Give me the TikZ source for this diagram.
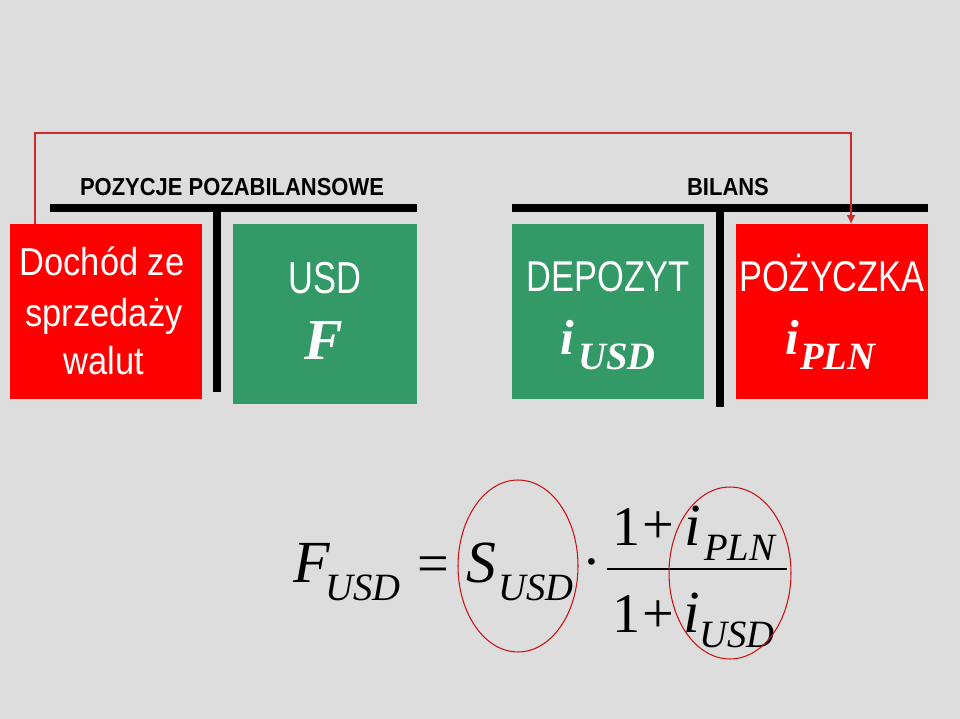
\documentclass[tikz,border=0pt]{standalone}
\usepackage{fontspec}
\setmainfont{Liberation Sans}
\newfontfamily\timesf{Liberation Serif}
\usetikzlibrary{arrows.meta}
\definecolor{bg}{HTML}{DDDDDD}
\definecolor{boxred}{HTML}{FF0000}
\definecolor{boxgreen}{HTML}{339966}
\definecolor{linkred}{HTML}{D02A2A}
\definecolor{ringred}{HTML}{CC1111}
\newcommand{\tall}[2]{\scalebox{1}[#1]{#2}}
\tikzset{
  box/.style={minimum width=3.84cm, minimum height=3.5cm, inner sep=0, outer sep=0},
  head/.style={anchor=base, font=\bfseries\fontsize{12.5}{14}\selectfont},
  boxtext/.style={anchor=base, text=white, font=\fontsize{19.6}{24}\selectfont},
  sym/.style={anchor=base west, text=white, inner sep=0, font=\timesf\bfseries\itshape\fontsize{28}{30}\selectfont},
  subsym/.style={sym, font=\timesf\bfseries\itshape\fontsize{22}{24}\selectfont},
  tbar/.style={line width=4pt},
  link/.style={linkred, line width=0.8pt, -{Latex[length=5pt,width=5pt]}},
  ring/.style={ringred, line width=0.6pt},
  big/.style={anchor=base west, inner sep=0, font=\timesf\itshape\fontsize{34}{36}\selectfont},
  small/.style={anchor=base west, inner sep=0, font=\timesf\itshape\fontsize{22}{24}\selectfont},
  op/.style={inner sep=0, font=\timesf\fontsize{32}{34}\selectfont}
}
\begin{document}
\begin{tikzpicture}[x=0.02cm, y=-0.02cm]
  \fill[bg] (0,0) rectangle (960,719);

  \node[head] (offhead) at (232,196) {\tall{1.12}{POZYCJE POZABILANSOWE}};
  \node[head] (bshead) at (728,196) {\tall{1.12}{BILANS}};
  \draw[tbar] (50,208) -- (417,208) (217,208) -- (217,392);
  \draw[tbar] (512,208) -- (928,208) (720,208) -- (720,407);

  \node[box, fill=boxred] (income) at (106,311.5) {};
  \node[box, fill=boxgreen, minimum width=3.68cm, minimum height=3.6cm] (forward) at (325,314) {};
  \node[box, fill=boxgreen] (deposit) at (608,311.5) {};
  \node[box, fill=boxred] (loan) at (832,311.5) {};

  \node[boxtext] (inc1) at (102,276) {\tall{1.13}{Dochód ze}};
  \node[boxtext] (inc2) at (104,327) {\tall{1.13}{sprzedaży}};
  \node[boxtext] (inc3) at (104,375) {\tall{1.13}{walut}};
  \node[boxtext] (fwdcur) at (325,294) {\tall{1.3}{USD}};
  \node[boxtext, font=\timesf\bfseries\itshape\fontsize{33}{35}\selectfont] (fwdrate) at (324,359) {F};
  \node[boxtext] (deplabel) at (608,292) {\tall{1.25}{DEPOZYT}};
  \node[boxtext] (loanlabel) at (832,292) {\tall{1.25}{POŻYCZKA}};
  \node[sym] (depi) at (560,355) {i};
  \node[subsym] (depsub) at (578,370) {USD};
  \node[sym] (loani) at (785,355) {i};
  \node[subsym] (loansub) at (800,370) {PLN};

  \coordinate (turnL) at (35,133);
  \coordinate (turnR) at (851,133);
  \draw[link] (turnL |- income.north) -- (turnL) -- (turnR) -- (turnR |- loan.north);

  \node[big] (F) at (293,582) {F};
  \node[small] (Fsub) at (325,600) {USD};
  \node[op] (eq) at (433,570) {=};
  \node[big] (S) at (466,582) {S};
  \node[small] (Ssub) at (498,600) {USD};
  \node[op] (dot) at (592,570) {·};
  \draw[line width=1.4pt] (607,569) -- (787,569);
  \node[op, anchor=base west] (one1) at (612,545) {1};
  \node[op] (plus1) at (658,528) {+};
  \node[big] (inum) at (684,545) {i};
  \node[small] (inumsub) at (704,560) {PLN};
  \node[op, anchor=base west] (one2) at (612,632) {1};
  \node[op] (plus2) at (658,617) {+};
  \node[big] (iden) at (683,632) {i};
  \node[small] (idensub) at (699,647) {USD};
  \draw[ring] (518,566) ellipse [x radius=1.2cm, y radius=1.72cm];
  \draw[ring] (730,573) ellipse [x radius=1.22cm, y radius=1.72cm];
\end{tikzpicture}
\end{document}
